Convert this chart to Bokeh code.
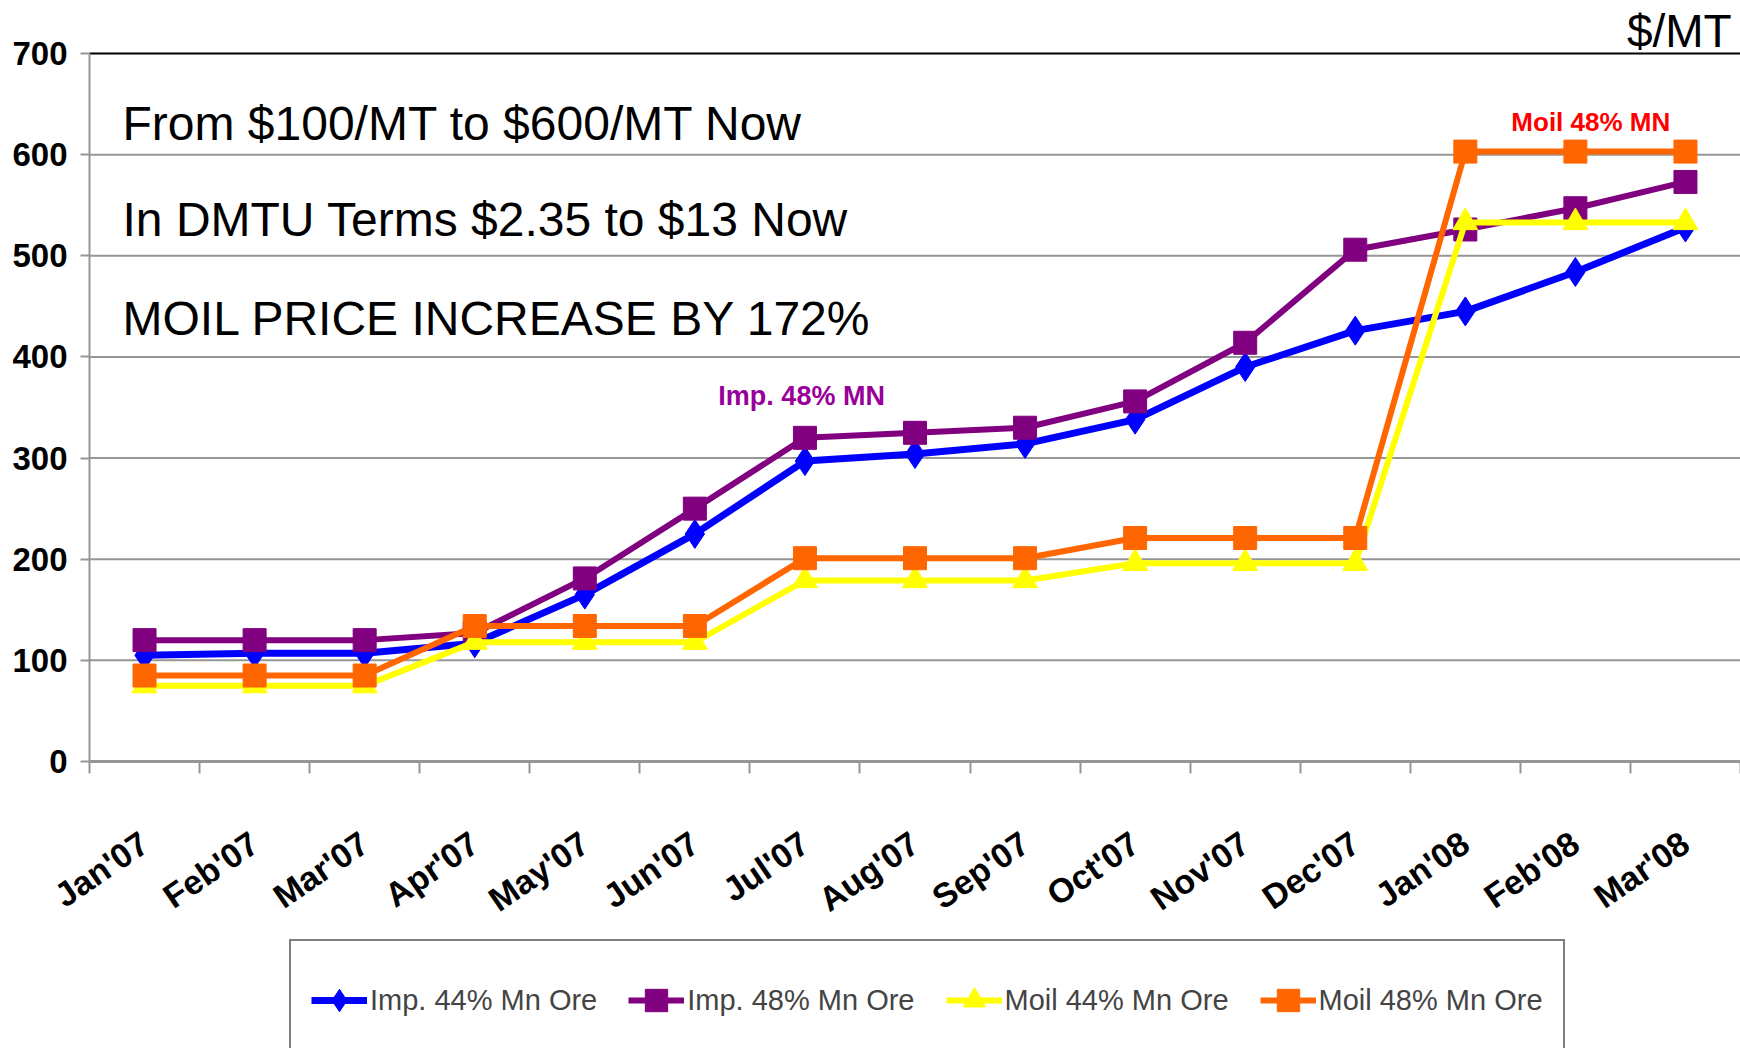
from bokeh.plotting import figure
from bokeh.models import Range1d, FixedTicker, Label, Legend, LegendItem
from bokeh.embed import file_html
from bokeh.resources import INLINE

months = ["Jan'07", "Feb'07", "Mar'07", "Apr'07", "May'07", "Jun'07", "Jul'07",
          "Aug'07", "Sep'07", "Oct'07", "Nov'07", "Dec'07", "Jan'08", "Feb'08", "Mar'08"]
imp44 = [105, 107, 107, 117, 165, 225, 297, 304, 314, 338, 390, 426, 445, 484, 528]
imp48 = [120, 120, 120, 127, 181, 250, 320, 325, 330, 356, 414, 506, 526, 547, 573]
moil44 = [75, 75, 75, 118, 118, 118, 179, 179, 179, 196, 196, 196, 533, 533, 533]
moil48 = [85, 85, 85, 134, 134, 134, 201, 201, 201, 221, 221, 221, 603, 603, 603]
y_ticks = [0, 100, 200, 300, 400, 500, 600, 700]

series = [
    ("Imp. 44% Mn Ore", imp44, "#0000FF", "diamond", 29, 7),
    ("Imp. 48% Mn Ore", imp48, "#800080", "square", 23, 6),
    ("Moil 44% Mn Ore", moil44, "#FFFF00", "triangle", 25, 6),
    ("Moil 48% Mn Ore", moil48, "#FF6600", "square", 23, 6),
]

BOLDFONT = "'Liberation Sans Narrow', 'Arial Narrow', 'Liberation Sans', sans-serif"
ARIAL = "'Liberation Sans', Arial, sans-serif"

n = len(months)
xs = [i + 0.5 for i in range(n)]

# Layout: the frame covers the whole canvas; axes are drawn at fixed locations
W, H = 1740, 1048
AX_LEFT, AX_TOP, AX_BOTTOM = 89, 53, 761      # pixel positions of x=0, y=700, y=0
px_y = (AX_BOTTOM - AX_TOP) / 700
px_x = (W - AX_LEFT) / n
x_start = -AX_LEFT / px_x
y_top = 700 + AX_TOP / px_y
y_bottom = -(H - AX_BOTTOM) / px_y

p = figure(frame_width=W, frame_height=H, x_range=Range1d(x_start, n),
           y_range=Range1d(y_bottom, y_top),
           output_backend="svg", toolbar_location=None,
           min_border_left=0, min_border_right=0, min_border_top=0, min_border_bottom=0)
p.title.visible = False
p.outline_line_color = None
p.background_fill_color = "white"
p.border_fill_color = "white"
p.xgrid.grid_line_color = None
p.ygrid.grid_line_color = None

# horizontal grid lines (plot area only) and black top border
p.segment(x0=[0] * (len(y_ticks) - 1), y0=y_ticks[:-1], x1=[n] * (len(y_ticks) - 1),
          y1=y_ticks[:-1], line_color="#969696", line_width=2, level="underlay")
p.segment(x0=[0], y0=[y_ticks[-1]], x1=[n], y1=[y_ticks[-1]],
          line_color="black", line_width=2, level="underlay")

# y axis
p.yaxis.fixed_location = 0
p.yaxis.bounds = (0, 700)
p.yaxis.ticker = FixedTicker(ticks=y_ticks)
p.yaxis.axis_line_color = "#969696"
p.yaxis.axis_line_width = 2
p.yaxis.major_tick_line_color = "#969696"
p.yaxis.major_tick_line_width = 2
p.yaxis.major_tick_out = 9
p.yaxis.major_tick_in = 0
p.yaxis.minor_tick_line_color = None
p.yaxis.major_label_text_font = BOLDFONT
p.yaxis.major_label_text_font_style = "bold"
p.yaxis.major_label_text_font_size = "33px"
p.yaxis.major_label_text_color = "black"
p.yaxis.major_label_standoff = 13

# x axis at value 0
p.xaxis.fixed_location = 0
p.xaxis.bounds = (0, n)
p.xaxis.ticker = FixedTicker(ticks=xs, minor_ticks=list(range(n + 1)))
p.xaxis.major_label_overrides = {x: m for x, m in zip(xs, months)}
p.xaxis.axis_line_color = "#969696"
p.xaxis.axis_line_width = 3
p.xaxis.major_tick_line_color = None
p.xaxis.major_tick_out = 0
p.xaxis.major_tick_in = 0
p.xaxis.minor_tick_line_color = "#969696"
p.xaxis.minor_tick_line_width = 2
p.xaxis.minor_tick_out = 12
p.xaxis.minor_tick_in = 0
p.xaxis.major_label_orientation = 0.6
p.xaxis.major_label_text_font = BOLDFONT
p.xaxis.major_label_text_font_style = "bold"
p.xaxis.major_label_text_font_size = "34px"
p.xaxis.major_label_text_color = "black"
p.xaxis.major_label_standoff = 66

items = []
for name, vals, color, marker, size, lw in series:
    lr = p.line(xs, vals, line_color=color, line_width=lw)
    sr = p.scatter(xs, vals, marker=marker, size=size, fill_color=color, line_color=color)
    items.append(LegendItem(label=name, renderers=[lr, sr]))

legend = Legend(items=items, orientation="horizontal", location=(289, -13),
                label_text_font=ARIAL, label_text_font_size="29px",
                glyph_width=56, glyph_height=78, label_standoff=3, spacing=31,
                padding=20, margin=0, border_line_color="black", border_line_width=2,
                background_fill_color="white", background_fill_alpha=1.0)
p.add_layout(legend, "center")

# annotations (data coordinates)
for txt, y in [("From $100/MT to $600/MT Now", 631),
               ("In DMTU Terms $2.35 to $13 Now", 536),
               ("MOIL PRICE INCREASE BY 172%", 438)]:
    p.add_layout(Label(x=0.30, y=y, text=txt,
                       text_font=ARIAL, text_font_size="48px", text_baseline="middle",
                       text_color="black"))

p.add_layout(Label(x=14.92, y=722, text="$/MT",
                   text_font=ARIAL, text_font_size="46px", text_baseline="middle",
                   text_align="right", text_color="black"))
p.add_layout(Label(x=6.47, y=361, text="Imp. 48% MN",
                   text_font=BOLDFONT, text_font_style="bold", text_font_size="27px",
                   text_baseline="middle", text_align="center", text_color="#990099"))
p.add_layout(Label(x=13.64, y=632, text="Moil 48% MN",
                   text_font=ARIAL, text_font_style="bold", text_font_size="26px",
                   text_baseline="middle", text_align="center", text_color="#FF0000"))

open("out.html", "w").write(file_html(p, INLINE))
